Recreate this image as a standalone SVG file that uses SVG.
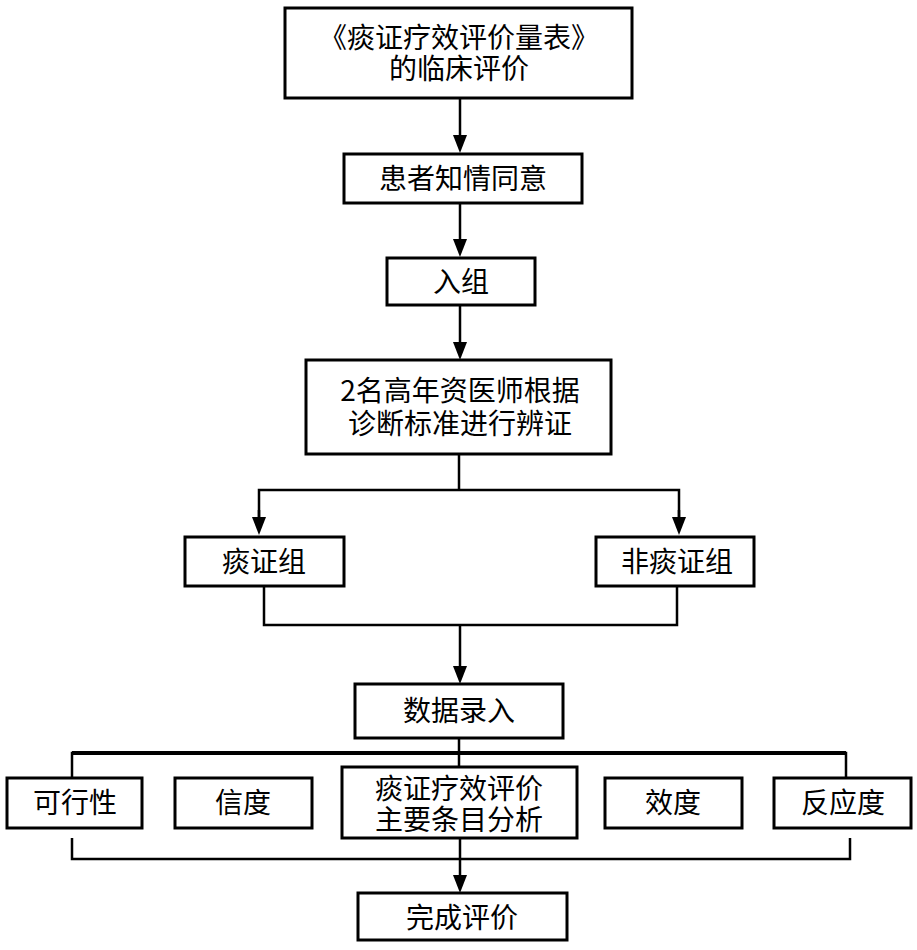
<svg xmlns="http://www.w3.org/2000/svg" width="917" height="950" viewBox="0 0 917 950">
<style>
.box{fill:#fff;stroke:#000;stroke-width:3}
.t{font-family:"Noto Sans CJK SC","Liberation Serif",serif;font-size:28px;fill:#000;text-anchor:middle}
.c{fill:none;stroke:#000;stroke-width:2.5}
.thick{stroke-width:4}
</style>
<defs>
<marker id="ah" markerUnits="userSpaceOnUse" markerWidth="18" markerHeight="14" refX="0" refY="7" orient="auto" viewBox="0 0 18 14">
<path d="M0,0 L18,7 L0,14 z" fill="#000"/>
</marker>
</defs>
<rect width="917" height="950" fill="#fff"/>
<g id="connectors">
<line class="c" x1="460" y1="98" x2="460" y2="135" marker-end="url(#ah)"/>
<line class="c" x1="460" y1="203" x2="460" y2="239" marker-end="url(#ah)"/>
<line class="c" x1="460" y1="305" x2="460" y2="342" marker-end="url(#ah)"/>
<line class="c" x1="459" y1="454" x2="459" y2="490"/>
<polyline class="c" points="259,517 259,490 679,490 679,517"/>
<line class="c" x1="259" y1="510" x2="259" y2="517" marker-end="url(#ah)"/>
<line class="c" x1="679" y1="510" x2="679" y2="517" marker-end="url(#ah)"/>
<polyline class="c" points="264,586 264,625 677,625 677,586"/>
<line class="c" x1="460" y1="625" x2="460" y2="666" marker-end="url(#ah)"/>
<line class="c" x1="459" y1="738" x2="459" y2="767"/>
<polyline class="c" points="72,778 72,753 846,753 846,778"/>
<line class="c thick" x1="72" y1="753" x2="846" y2="753"/>
<polyline class="c" points="72,838 72,859 850,859 850,838"/>
<line class="c" x1="460" y1="838" x2="460" y2="875" marker-end="url(#ah)"/>
</g>
<g id="n1"><rect class="box" x="285" y="8" width="347" height="90"/>
<text class="t" x="459" y="48">《痰证疗效评价量表》</text>
<text class="t" x="459" y="79">的临床评价</text></g>
<g id="n2"><rect class="box" x="344" y="154" width="238" height="49"/>
<text class="t" x="463" y="189">患者知情同意</text></g>
<g id="n3"><rect class="box" x="387" y="258" width="148" height="47"/>
<text class="t" x="461" y="292">入组</text></g>
<g id="n4"><rect class="box" x="306" y="360" width="305" height="94"/>
<text class="t" x="460" y="401">2名高年资医师根据</text>
<text class="t" x="460" y="434">诊断标准进行辨证</text></g>
<g id="n5"><rect class="box" x="185" y="537" width="159" height="49"/>
<text class="t" x="264" y="572">痰证组</text></g>
<g id="n6"><rect class="box" x="596" y="537" width="158" height="49"/>
<text class="t" x="677" y="572">非痰证组</text></g>
<g id="n7"><rect class="box" x="355" y="684" width="208" height="54"/>
<text class="t" x="459" y="721">数据录入</text></g>
<g id="n8"><rect class="box" x="7" y="778" width="135" height="50"/>
<text class="t" x="75" y="813">可行性</text></g>
<g id="n9"><rect class="box" x="175" y="778" width="137" height="50"/>
<text class="t" x="243" y="813">信度</text></g>
<g id="n10"><rect class="box" x="342" y="767" width="235" height="71"/>
<text class="t" x="459" y="799">痰证疗效评价</text>
<text class="t" x="459" y="830">主要条目分析</text></g>
<g id="n11"><rect class="box" x="605" y="778" width="137" height="50"/>
<text class="t" x="673" y="813">效度</text></g>
<g id="n12"><rect class="box" x="774" y="778" width="137" height="50"/>
<text class="t" x="843" y="813">反应度</text></g>
<g id="n13"><rect class="box" x="358" y="893" width="209" height="47"/>
<text class="t" x="462" y="928">完成评价</text></g>
</svg>
